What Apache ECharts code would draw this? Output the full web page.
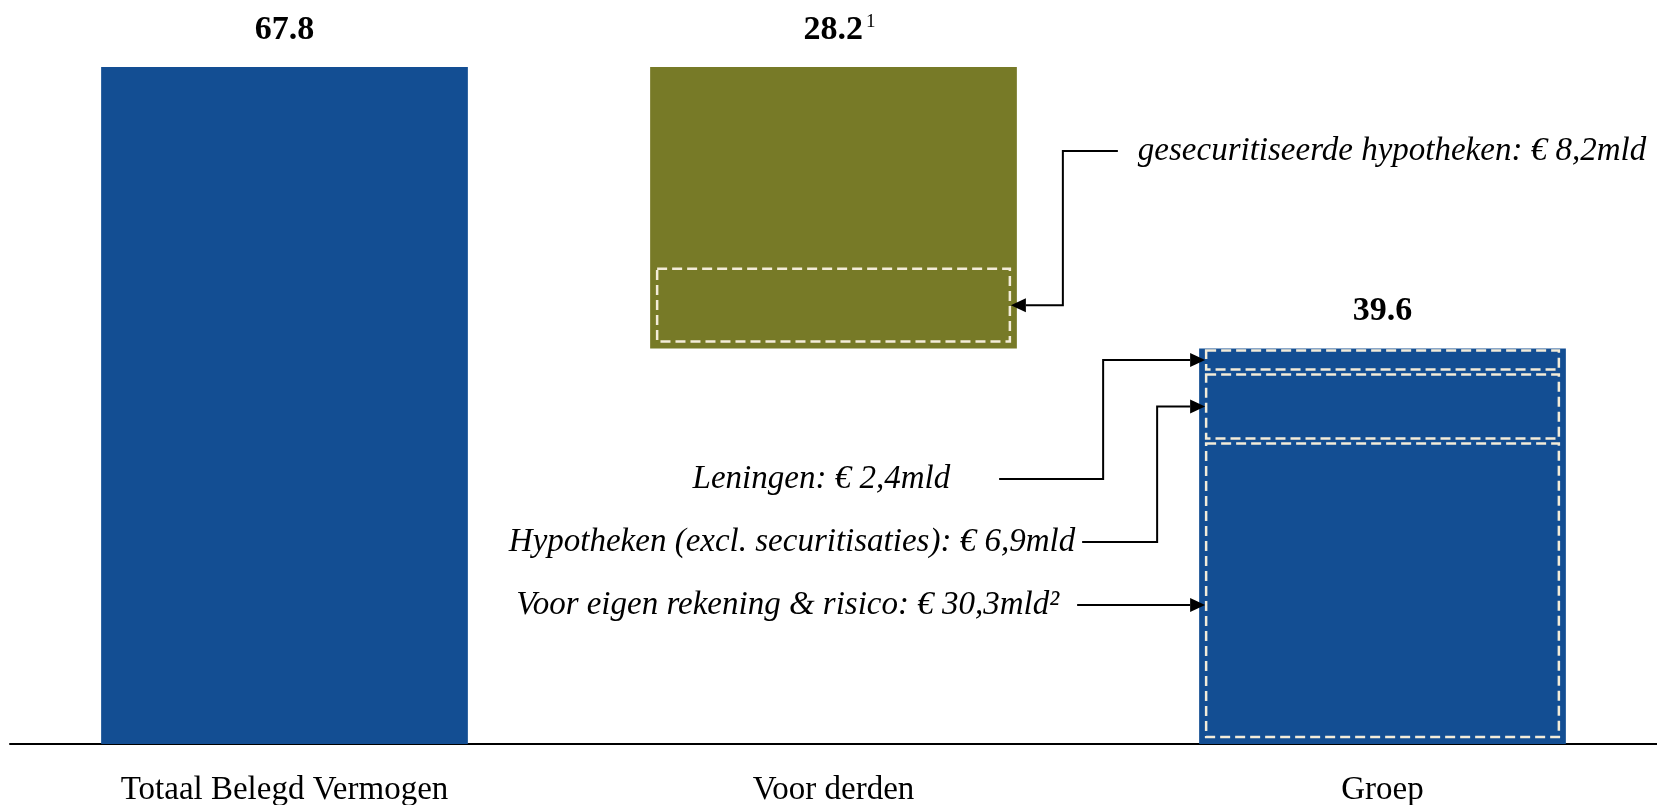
<!DOCTYPE html>
<html>
<head>
<meta charset="utf-8">
<script src="https://cdn.jsdelivr.net/npm/echarts@6/dist/echarts.min.js"></script>
<style>
  html, body { margin: 0; padding: 0; background: #ffffff; }
  #chart { width: 1657px; height: 805px; }
</style>
</head>
<body>
<div id="chart"></div>
<script>
// Categories along the x axis
const categories = ['Totaal Belegd Vermogen', 'Voor derden', 'Groep'];
// Floating bars: start value and height (€ mld)
const barStart = [0, 39.6, 0];
const barValues = [67.8, 28.2, 39.6];
// Footnote marks placed after the bar totals
const barNotes = ['', '1', ''];

// Breakdown shown as dashed boxes inside the bars, stacked bottom-up per bar
const segmentNames = ['gesecuritiseerde hypotheken', 'Voor eigen rekening & risico', 'Hypotheken (excl. securitisaties)', 'Leningen'];
const segmentValues = [8.2, 30.3, 6.9, 2.4];
const segmentBar = [1, 2, 2, 2];
const segmentNotes = ['', '²', '', ''];

// ---- styling ----
const FONT = '"Liberation Serif", "DejaVu Serif", serif';
const BLUE = '#134E93';
const OLIVE = '#777A27';
const DASH = '#F3ECD9';
const BAR_RATIO = 0.668;
const barColors = [BLUE, OLIVE, BLUE];

// Callout placement relative to the bar edge and the baseline (pixels)
const calloutLayout = [
  { side: 'right', textDx: 121, lineDx: 101, elbowDx: 46, textDy: 593 },
  { side: 'left',  textDx: 140, lineDx: 122, elbowDx: null, textDy: 139 },
  { side: 'left',  textDx: 124, lineDx: 117, elbowDx: 42, textDy: 202 },
  { side: 'left',  textDx: 249, lineDx: 200, elbowDx: 96, textDy: 265 }
];

// Segment ranges [bar, low, high, index], stacked from each bar's start
const running = barStart.slice();
const segmentRanges = segmentValues.map((v, i) => {
  const b = segmentBar[i];
  const lo = running[b];
  running[b] = lo + v;
  return [b, lo, lo + v, i];
});

function fmtMld(v) {
  return v.toFixed(1).replace('.', ',') + 'mld';
}

function renderSegment(params, api) {
  const cat = api.value(0), lo = api.value(1), hi = api.value(2), k = api.value(3);
  const pLo = api.coord([cat, lo]);
  const pHi = api.coord([cat, hi]);
  const base = api.coord([cat, 0])[1];
  const bw = api.size([1, 0])[0] * BAR_RATIO;
  const left = pLo[0] - bw / 2;
  const right = pLo[0] + bw / 2;
  const inset = 7;
  const botInset = lo === barStart[cat] ? 7 : 3;
  const rx = left + inset, rw = bw - 2 * inset;
  const ry = pHi[1] + 2;
  const rh = pLo[1] - botInset - ry;
  const midY = ry + rh / 2;

  const children = [{
    type: 'rect',
    shape: { x: rx, y: ry, width: rw, height: rh },
    style: { fill: null, stroke: DASH, lineWidth: 2.5, lineDash: [10, 5] }
  }];

  const L = calloutLayout[k];
  const textY = base - L.textDy;
  const label = segmentNames[k] + ': € ' + fmtMld(segmentValues[k]) + segmentNotes[k];
  const font = 'italic 33px ' + FONT;
  let points, tipX, tipY, dir;
  if (L.side === 'right') {
    tipX = rx + rw + 1;
    dir = -1;
    if (L.elbowDx == null) {
      tipY = textY;
      points = [[right + L.lineDx, textY], [tipX, tipY]];
    } else {
      tipY = midY;
      points = [[right + L.lineDx, textY], [right + L.elbowDx, textY], [right + L.elbowDx, tipY], [tipX, tipY]];
    }
    children.push({
      type: 'text',
      style: { text: label, x: right + L.textDx, y: textY, fill: '#000', font: font,
               align: 'left', verticalAlign: 'middle', textAlign: 'left', textVerticalAlign: 'middle' }
    });
  } else {
    tipX = rx - 1;
    dir = 1;
    if (L.elbowDx == null) {
      tipY = textY;
      points = [[left - L.lineDx, textY], [tipX, tipY]];
    } else {
      tipY = midY;
      points = [[left - L.lineDx, textY], [left - L.elbowDx, textY], [left - L.elbowDx, tipY], [tipX, tipY]];
    }
    children.push({
      type: 'text',
      style: { text: label, x: left - L.textDx, y: textY, fill: '#000', font: font,
               align: 'right', verticalAlign: 'middle', textAlign: 'right', textVerticalAlign: 'middle' }
    });
  }
  // leader line, stopping at the arrow head base
  const head = 15;
  const pts = points.slice();
  pts[pts.length - 1] = [tipX - dir * head, tipY];
  children.push({
    type: 'polyline',
    shape: { points: pts },
    style: { stroke: '#000', lineWidth: 2, fill: null }
  });
  children.push({
    type: 'polygon',
    shape: { points: [[tipX, tipY], [tipX - dir * head, tipY - 7], [tipX - dir * head, tipY + 7]] },
    style: { fill: '#000' }
  });
  return { type: 'group', children: children };
}

const chart = echarts.init(document.getElementById('chart'), null, { renderer: 'canvas' });

chart.setOption({
  animation: false,
  backgroundColor: '#ffffff',
  grid: { left: 10, right: 0, top: 67, bottom: 61, containLabel: false, outerBoundsMode: 'none' },
  xAxis: {
    type: 'category',
    data: categories,
    axisTick: { show: false },
    axisLine: { lineStyle: { color: '#000', width: 2 } },
    axisLabel: { color: '#000', fontFamily: FONT, fontSize: 33, margin: 30 }
  },
  yAxis: {
    type: 'value',
    min: 0,
    max: 67.8,
    show: false,
    splitLine: { show: false }
  },
  series: [
    {
      name: 'start',
      type: 'bar',
      stack: 'w',
      barWidth: (BAR_RATIO * 100) + '%',
      itemStyle: { color: 'transparent' },
      emphasis: { disabled: true },
      data: barStart
    },
    {
      name: 'waarde',
      type: 'bar',
      stack: 'w',
      barWidth: (BAR_RATIO * 100) + '%',
      emphasis: { disabled: true },
      data: barValues.map((v, i) => ({ value: v, itemStyle: { color: barColors[i] } })),
      label: {
        show: true,
        position: 'top',
        distance: 20,
        formatter: p => barNotes[p.dataIndex]
          ? '{pad|}{v|' + p.value + '}{sup|' + barNotes[p.dataIndex] + '}'
          : '{v|' + p.value + '}',
        rich: {
          v: { fontFamily: FONT, fontWeight: 'bold', fontSize: 34, color: '#000' },
          sup: { fontFamily: FONT, fontSize: 19, color: '#000', verticalAlign: 'top', padding: [0, 0, 12, 3] },
          pad: { width: 12 }
        }
      }
    },
    {
      name: 'uitsplitsing',
      type: 'custom',
      clip: false,
      silent: true,
      renderItem: renderSegment,
      encode: { x: 0, y: [1, 2] },
      data: segmentRanges,
      z: 5
    }
  ]
});
</script>
</body>
</html>
